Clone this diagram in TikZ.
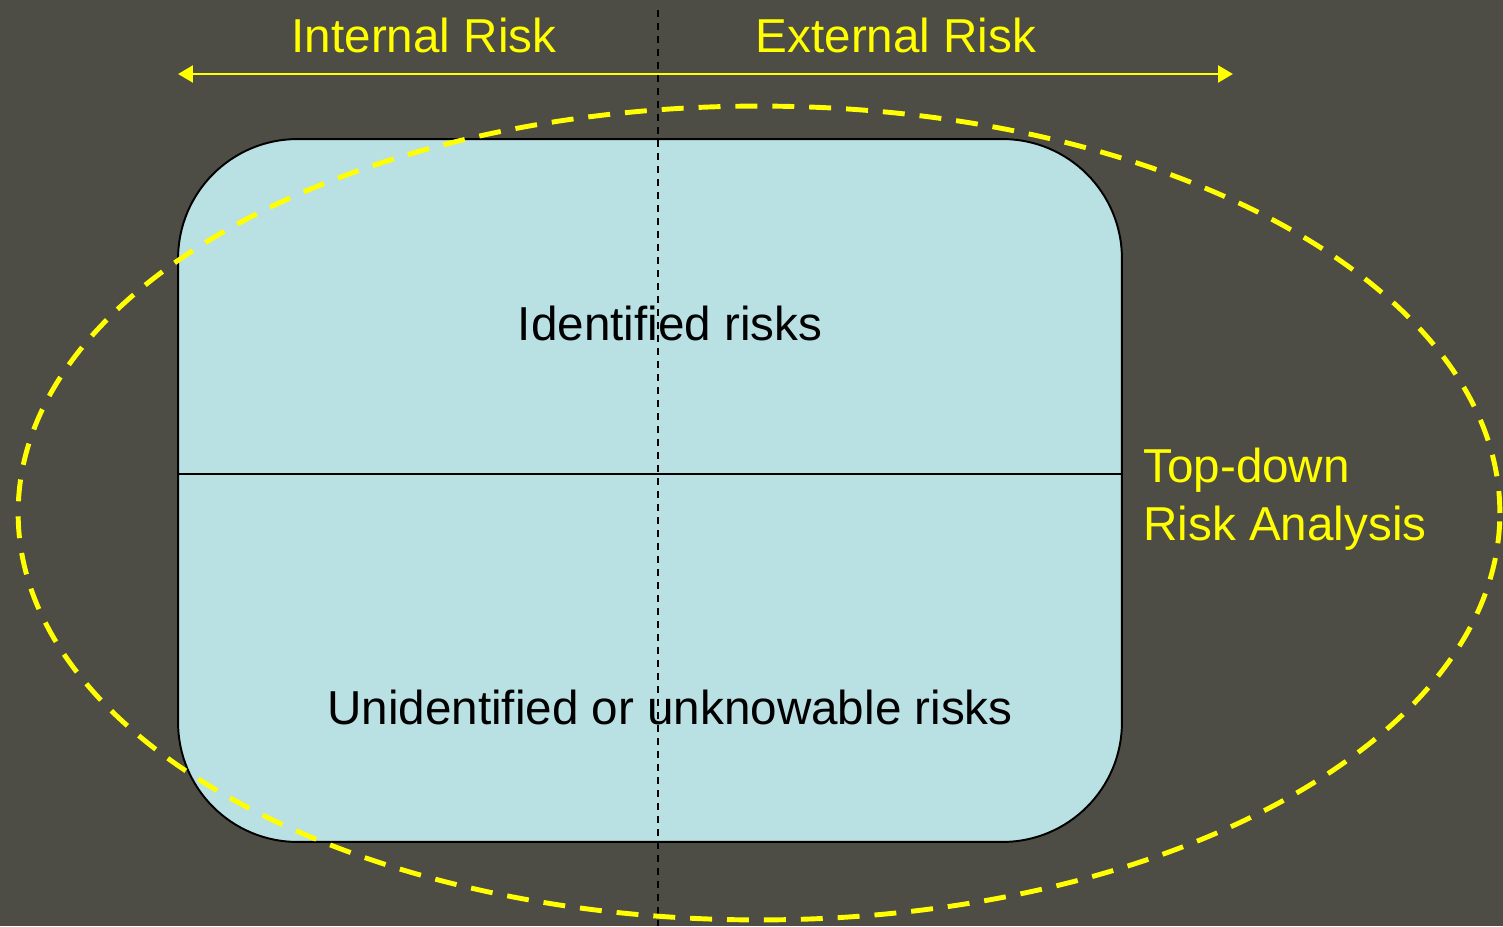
\documentclass[tikz,border=0pt]{standalone}
\usepackage{fontspec}
\setmainfont{Liberation Sans}
\usetikzlibrary{arrows.meta}
\definecolor{bgslate}{HTML}{4D4C45}
\definecolor{boxblue}{HTML}{B9E0E3}
\definecolor{hiyellow}{HTML}{FFFF00}
\tikzset{
  riskbox/.style={draw=black, line width=1.1pt, fill=boxblue, rounded corners=68pt,
    minimum width=18.88cm, minimum height=14.06cm, inner sep=0pt},
  darklabel/.style={text=black, font=\fontsize{27.1}{33}\selectfont, anchor=base, inner sep=0pt},
  yellowlabel/.style={text=hiyellow, font=\fontsize{27.1}{33}\selectfont, anchor=base, inner sep=0pt},
  spanarrow/.style={draw=hiyellow, line width=1.7pt,
    {Triangle[length=8.5pt,width=9.5pt]}-{Triangle[length=8.5pt,width=9.5pt]}},
  splitline/.style={draw=black, line width=0.8pt, dash pattern=on 4pt off 3.4pt},
  scopering/.style={draw=hiyellow, line width=2.8pt, dash pattern=on 12.5pt off 8.5pt},
}
\begin{document}
\begin{tikzpicture}[x=0.02cm, y=-0.02cm]
  % canvas
  \fill[bgslate] (0,0) rectangle (1503,926);
  \useasboundingbox (0,0) rectangle (1503,926);

  % risk box with its horizontal divider
  \node[riskbox] (box) at (650,490.5) {};
  \coordinate (divL) at (178,474);
  \coordinate (divR) at (1122,474);
  \draw[black, line width=0.9pt] (divL) -- (divR);

  % internal / external split
  \coordinate (splitTop) at (658,10);
  \coordinate (splitBot) at (658,926);
  \draw[splitline] (splitTop) -- (splitBot);

  % span arrow and its labels
  \coordinate (spanL) at (178,74);
  \coordinate (spanR) at (1233,74);
  \draw[spanarrow] (spanL) -- (spanR);
  \node[yellowlabel] (internal) at (424,53) {Internal Risk};
  \node[yellowlabel] (external) at (896,53) {External Risk};

  % top-down analysis scope
  \draw[scopering] (759,513) ellipse [x radius=14.82cm, y radius=8.14cm];

  % box contents
  \node[darklabel] (known) at (670,340) {Identified risks};
  \node[darklabel] (unknown) at (670,724) {Unidentified or unknowable risks};

  % scope label (two lines, anchored on the last baseline)
  \node[yellowlabel, anchor=base west, align=left] (topdown) at (1143,540)
    {Top-down\\Risk Analysis};
\end{tikzpicture}
\end{document}
